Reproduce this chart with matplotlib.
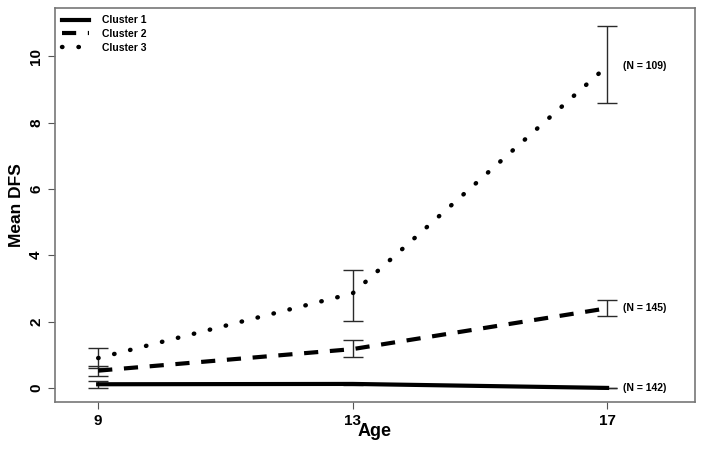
import numpy as np
import matplotlib.pyplot as plt

# values
ages = [9, 13, 17]
names = ['Cluster 1', 'Cluster 2', 'Cluster 3']
n_labels = ['(N = 142)', '(N = 145)', '(N = 109)']

c1_mean = [0.11, 0.12, 0.0]
c1_lo = [0.0, 0.08, 0.0]
c1_hi = [0.2, 0.16, 0.0]

c2_mean = [0.52, 1.17, 2.4]
c2_lo = [0.37, 0.92, 2.17]
c2_hi = [0.67, 1.45, 2.65]

c3_mean = [0.9, 2.85, 9.7]
c3_lo = [0.6, 2.02, 8.6]
c3_hi = [1.2, 3.55, 10.9]

plt.rcParams['font.family'] = ['Liberation Sans', 'DejaVu Sans']
plt.rcParams['font.weight'] = 'bold'

fig = plt.figure(figsize=(7.04, 4.51), dpi=100)
ax = fig.add_axes([0.078, 0.109, 0.909, 0.873])

styles = [dict(ls='-', lw=3), dict(ls=(0, (3.4, 2.8)), lw=3), dict(ls=(0, (0.1, 3.6)), lw=3.2, dash_capstyle='round')]
means = [c1_mean, c2_mean, c3_mean]
los = [c1_lo, c2_lo, c3_lo]
his = [c1_hi, c2_hi, c3_hi]

for i in range(3):
    m = np.array(means[i])
    yerr = [m - np.array(los[i]), np.array(his[i]) - m]
    ax.errorbar(ages, m, yerr=yerr, fmt='none', ecolor='#2a2a2a', elinewidth=1, capsize=7, capthick=1, zorder=2)
    ax.plot(ages, m, color='black', label=names[i], zorder=3, **styles[i])
    ax.text(17.25, m[-1], n_labels[i], fontsize=7.5, fontweight='bold', va='center', ha='left')

ax.set_xlim(8.32, 18.38)
ax.set_ylim(-0.42, 11.45)
ax.set_xticks(ages)
ax.set_yticks([0, 2, 4, 6, 8, 10])
ax.tick_params(axis='both', labelsize=11, colors='#555555', labelcolor='black', length=5)
for lab in ax.get_yticklabels():
    lab.set_rotation(90)
    lab.set_va('center')
for lab in ax.get_xticklabels() + ax.get_yticklabels():
    lab.set_fontweight('bold')
for s in ax.spines.values():
    s.set_color('#777777')
    s.set_linewidth(1.2)

ax.set_xlabel('Age', fontsize=13, fontweight='bold', labelpad=-3)
ax.set_ylabel('Mean DFS', fontsize=12.5, fontweight='bold', labelpad=4)

leg = ax.legend(loc='upper left', frameon=False, fontsize=7.5, handlelength=2.6,
                labelspacing=0.35, borderaxespad=0.3, handletextpad=1.2)
for t in leg.get_texts():
    t.set_fontweight('bold')

fig.savefig('out.png', dpi=100)
